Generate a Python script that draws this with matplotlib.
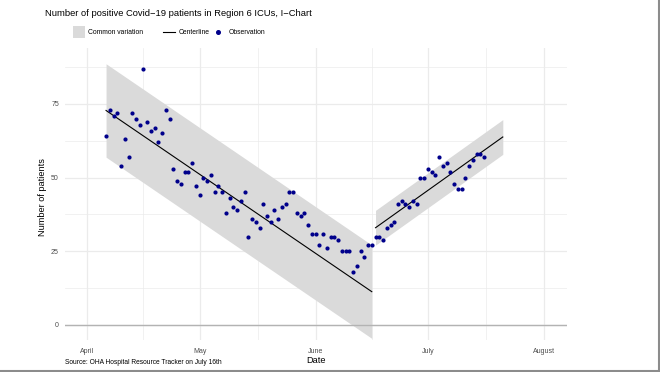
import numpy as np
import pandas as pd
import matplotlib
matplotlib.use("Agg")
import matplotlib.pyplot as plt
import matplotlib.dates as mdates
from matplotlib.patches import Rectangle
from matplotlib.lines import Line2D

plt.rcParams['font.family'] = ['Liberation Sans', 'DejaVu Sans']

# ---------------- data ----------------
obs_start = "2020-04-06"
observations = [64, 73, 71, 72, 54, 63, 57, 72, 70, 68, 87, 69, 66, 67, 62, 65, 73, 70,
                53, 49, 48, 52, 52, 55, 47, 44, 50, 49, 51, 45, 47, 45, 38, 43, 40, 39,
                42, 45, 30, 36, 35, 33, 41, 37, 35, 39, 36, 40, 41, 45, 45, 38, 37, 38,
                34, 31, 31, 27, 31, 26, 30, 30, 29, 25, 25, 25, 18, 20, 25, 23, 27, 27,
                30, 30, 29, 33, 34, 35, 41, 42, 41, 40, 42, 41, 50, 50, 53, 52, 51, 57,
                54, 55, 52, 48, 46, 46, 50, 54, 56, 58, 58, 57]

phase_starts = ["2020-04-06", "2020-06-17"]
phase_ends = ["2020-06-16", "2020-07-21"]
center_start = [72.8, 33.0]
center_end = [11.3, 63.8]
half_width = [15.85, 5.9]

x_tick_dates = ["2020-04-01", "2020-05-01", "2020-06-01", "2020-07-01", "2020-08-01"]
x_tick_labels = ["April", "May", "June", "July", "August"]
y_ticks = [0, 25, 50, 75]

title = "Number of positive Covid\u221219 patients in Region 6 ICUs, I\u2212Chart"
caption = "Source: OHA Hospital Resource Tracker on July 16th"

# ---------------- figure ----------------
W, H = 660, 372
fig = plt.figure(figsize=(W / 100, H / 100), dpi=100)

def fx(px):
    return px / W

def fy(py):
    return 1 - py / H

# panel position in pixels
p_left, p_right, p_top, p_bot = 64.5, 566.8, 48.0, 339.7
ax = fig.add_axes([fx(p_left), fy(p_bot), fx(p_right - p_left), (p_bot - p_top) / H])

dates = pd.date_range(obs_start, periods=len(observations), freq="D")
x0 = mdates.date2num(pd.Timestamp("2020-04-01"))
xmin = x0 - 6.1
xmax = x0 + 128.1
ax.set_xlim(xmin, xmax)
ax.set_ylim(-5, 94)

# grid
grid_c = "#ebebeb"
for t in x_tick_dates:
    ax.axvline(mdates.date2num(pd.Timestamp(t)), color=grid_c, lw=0.9, zorder=0)
tick_nums = [mdates.date2num(pd.Timestamp(t)) for t in x_tick_dates]
for a, b in zip(tick_nums[:-1], tick_nums[1:]):
    ax.axvline((a + b) / 2, color=grid_c, lw=0.5, zorder=0)
for v in y_ticks:
    ax.axhline(v, color=grid_c, lw=0.9, zorder=0)
for v in [12.5, 37.5, 62.5, 87.5]:
    ax.axhline(v, color=grid_c, lw=0.5, zorder=0)

# bands and centerlines
for s, e, c0, c1, hw in zip(phase_starts, phase_ends, center_start, center_end, half_width):
    xs = np.array([mdates.date2num(pd.Timestamp(s)), mdates.date2num(pd.Timestamp(e))])
    cs = np.array([c0, c1])
    ax.fill_between(xs, cs - hw, cs + hw, color="#dadada", lw=0, zorder=1)
    ax.plot(xs, cs, color="black", lw=0.8, zorder=2)

ax.axhline(0, color="#b3b3b3", lw=1.0, zorder=1.5)

ax.scatter(mdates.date2num(dates), observations, s=9, color="#00008b", lw=0, zorder=3)

ax.set_xticks(tick_nums)
ax.set_xticklabels(x_tick_labels)
ax.set_yticks(y_ticks)
ax.tick_params(axis="x", length=0, labelsize=5, labelcolor="#4d4d4d", pad=6)
ax.tick_params(axis="y", length=0, labelsize=5, labelcolor="#4d4d4d", pad=4)
for sp in ax.spines.values():
    sp.set_visible(False)
ax.set_xlabel("Date", fontsize=6.6, labelpad=1)
ax.set_ylabel("Number of patients", fontsize=6.6)
ax.yaxis.set_label_coords((47 - p_left) / (p_right - p_left), 0.49)

# title
fig.text(fx(45), fy(13), title, fontsize=6.78, ha="left", va="center")

# legend (manual)
fig.add_artist(Rectangle((fx(73), fy(38)), fx(12), 12 / H, facecolor="#dadada", edgecolor="none"))
fig.text(fx(88), fy(32), "Common variation", fontsize=4.85, va="center", ha="left")
fig.add_artist(Line2D([fx(163), fx(175)], [fy(32), fy(32)], color="black", lw=0.8))
fig.text(fx(179), fy(32), "Centerline", fontsize=4.85, va="center", ha="left")
fig.add_artist(Line2D([fx(218)], [fy(32)], marker="o", markersize=2.6, color="#00008b", lw=0))
fig.text(fx(229), fy(32), "Observation", fontsize=4.85, va="center", ha="left")

# caption
fig.text(fx(65), fy(363), caption, fontsize=4.75, ha="left", va="center")

# frame on right and bottom edges
fig.add_artist(Line2D([fx(659), fx(659)], [0, 1], color="#8c8c8c", lw=1.5))
fig.add_artist(Line2D([0, 1], [fy(371), fy(371)], color="#8c8c8c", lw=1.5))

fig.savefig("out.png", dpi=100)
